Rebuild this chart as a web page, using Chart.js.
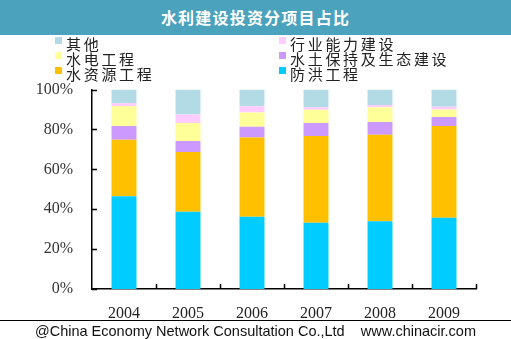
<!DOCTYPE html>
<html>
<head>
<meta charset="utf-8">
<script src="https://cdn.jsdelivr.net/npm/chart.js@4/dist/chart.umd.min.js"></script>
<style>
  body { margin: 0; background: #fff; }
  #wrap { position: relative; width: 511px; height: 339px; overflow: hidden; background: #fff; }
  #title { position: absolute; left: 0; top: 0; width: 511px; height: 35px; background: #4aa2bd;
           color: #fff; font: bold 16px "Noto Sans CJK SC", sans-serif; text-align: center; line-height: 35px; letter-spacing: 1.2px; z-index: 2; }
  #legend { position: absolute; left: 0; top: 33px; width: 511px; z-index: 2; }
  .item { position: absolute; height: 15px; line-height: 15px; font: 15px "Noto Sans CJK SC", serif; color: #222; letter-spacing: 2.7px; white-space: nowrap; }
  .item span { position: absolute; left: -11px; top: 4px; width: 7px; height: 7px; }
  #box { position: absolute; left: 0; top: 61px; width: 511px; height: 261px; }
  #foot { position: absolute; left: 0; top: 320px; width: 511px; height: 19px; border-top: 1px solid #000;
          font: 14.5px "Liberation Sans", Arial, sans-serif; color: #111; text-align: center; line-height: 21px; white-space: pre; }
</style>
</head>
<body>
<div id="wrap">
  <div id="title">水利建设投资分项目占比</div>
  <div id="legend"></div>
  <div id="box"><canvas id="shareChart"></canvas></div>
  <div id="foot">@China Economy Network Consultation Co.,Ltd    www.chinacir.com</div>
</div>
<script>
var years = ['2004', '2005', '2006', '2007', '2008', '2009'];
var yTicks = [0, 20, 40, 60, 80, 100];

// shares in %, bottom of the stack first
var fangHong   = [46.5, 38.7, 36.2, 33.2, 34.0, 35.7];
var shuiZiYuan = [28.3, 30.0, 39.8, 43.5, 43.3, 46.0];
var shuiTu     = [7.0, 5.5, 5.4, 6.5, 6.5, 4.5];
var shuiDian   = [9.9, 9.0, 7.1, 6.7, 7.4, 3.8];
var hangYe     = [1.5, 4.3, 3.2, 1.3, 1.1, 1.4];
var qiTa       = [6.8, 12.5, 8.3, 8.8, 7.7, 8.6];

var seriesNames = ['防洪工程', '水资源工程', '水土保持及生态建设', '水电工程', '行业能力建设', '其他'];
var seriesData = [fangHong, shuiZiYuan, shuiTu, shuiDian, hangYe, qiTa];
var seriesColors = ['#00ccff', '#ffc000', '#cc99ff', '#ffff99', '#ffccff', '#b3dbe6'];

var datasets = seriesNames.map(function (name, i) {
    return {
        label: name,
        data: seriesData[i],
        backgroundColor: seriesColors[i],
        borderWidth: 0,
        barPercentage: 0.39,
        categoryPercentage: 1
    };
});

// legend: top of stack first, two columns
var legend = document.getElementById('legend');
datasets.slice().reverse().forEach(function (ds, i) {
    var el = document.createElement('div');
    el.className = 'item';
    el.style.left = (i % 2 === 0 ? 66 : 290) + 'px';
    el.style.top = (Math.floor(i / 2) * 15) + 'px';
    el.innerHTML = '<span style="background:' + ds.backgroundColor + '"></span>' + ds.label;
    legend.appendChild(el);
});

// small tick marks drawn on the inner side of both axes
var innerTicks = {
    id: 'innerTicks',
    afterDraw: function (chart) {
        var ctx = chart.ctx;
        var x = chart.scales.x, y = chart.scales.y;
        var area = chart.chartArea;
        ctx.save();
        ctx.strokeStyle = '#000';
        ctx.lineWidth = 1.5;
        ctx.beginPath();
        yTicks.forEach(function (v) {
            var py = Math.round(y.getPixelForValue(v)) + 0.5;
            ctx.moveTo(area.left, py);
            ctx.lineTo(area.left + 5, py);
        });
        var half = (x.getPixelForValue(1) - x.getPixelForValue(0)) / 2;
        for (var i = 0; i < years.length; i++) {
            var px = Math.round(x.getPixelForValue(i) + half) + 0.5;
            ctx.moveTo(px, area.bottom);
            ctx.lineTo(px, area.bottom - 5);
        }
        ctx.stroke();
        ctx.restore();
    }
};

new Chart(document.getElementById('shareChart').getContext('2d'), {
    type: 'bar',
    data: { labels: years, datasets: datasets },
    plugins: [innerTicks],
    options: {
        responsive: true,
        maintainAspectRatio: false,
        animation: false,
        layout: { padding: { left: 0, right: 35, top: 9, bottom: 0 } },
        plugins: {
            legend: { display: false },
            tooltip: { enabled: false }
        },
        scales: {
            x: {
                stacked: true,
                grid: { display: false, drawTicks: false },
                border: { color: '#000', width: 1.5 },
                ticks: { padding: 15, color: '#222', font: { family: 'Liberation Serif', size: 16 } },
                afterFit: function (s) { s.height = 33; }
            },
            y: {
                stacked: true,
                min: 0,
                max: 100,
                afterBuildTicks: function (s) { s.ticks = yTicks.map(function (v) { return { value: v }; }); },
                grid: { display: false, drawTicks: false },
                border: { color: '#000', width: 1.5 },
                ticks: {
                    padding: 19,
                    color: '#333',
                    font: { family: 'Liberation Serif', size: 16 },
                    callback: function (v) { return v + '%'; }
                },
                afterFit: function (s) { s.width = 92; }
            }
        }
    }
});
</script>
</body>
</html>
